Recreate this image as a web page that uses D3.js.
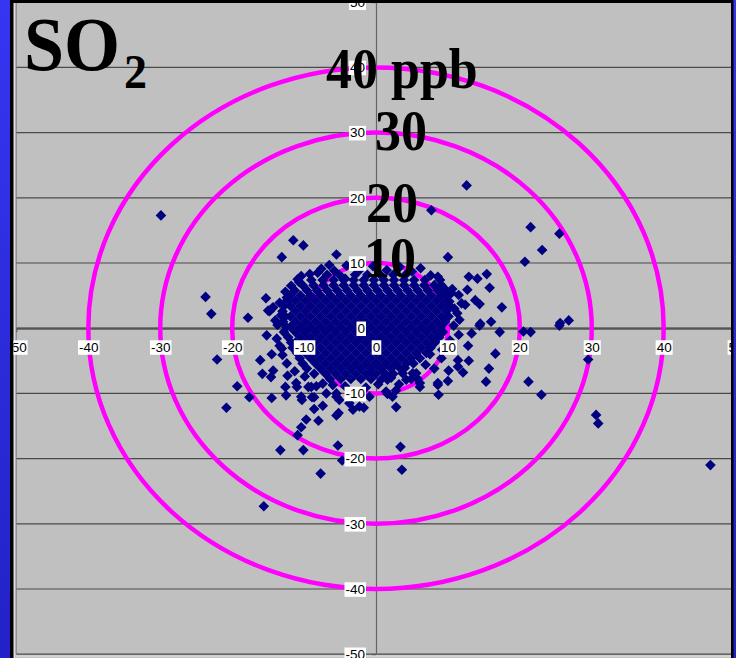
<!DOCTYPE html>
<html>
<head>
<meta charset="utf-8">
<script src="https://cdn.jsdelivr.net/npm/d3@7"></script>
<style>
  html, body { margin: 0; padding: 0; overflow: hidden; background: #2c2cdc; }
  svg { display: block; }
</style>
</head>
<body>
<svg id="chart" width="736" height="658"></svg>
<script>
// ---- data -------------------------------------------------------------
const xTicks = [-50, -40, -30, -20, -10, 0, 10, 20, 30, 40, 50];
const yTicks = [-50, -40, -30, -20, -10, 0, 10, 20, 30, 40, 50];
const ringRadii = [10, 20, 30, 40];
const ringLabels = ["10", "20", "30", "40 ppb"];

// dense cluster around the origin, listed row by row (y level, then x values)
const coreY = [8.2, 7.4, 6.6, 5.8, 5.0, 4.2, 3.4, 2.6, 1.8, 1.0, 0.2, -0.6, -1.4,
               -2.2, -3.0, -3.8, -4.6, -5.4, -6.2, -7.0, -7.8];
const coreX = [
  [-6.8, -5.1, -2.9, -1.2, 0.6, 2.4, 4.1],
  [-9.0, -7.4, -5.9, -4.5, -3.1, -1.7, -0.3, 1.1, 2.5, 3.9, 5.3, 6.8],
  [-10.2, -8.7, -7.3, -5.9, -4.5, -3.1, -1.7, -0.3, 1.1, 2.5, 3.9, 5.3, 6.7, 8.1],
  [-11.3, -9.6, -8.2, -6.8, -5.4, -4.0, -2.6, -1.2, 0.2, 1.6, 3.0, 4.4, 5.8, 7.2, 8.6, 9.4],
  [-11.9, -10.5, -9.1, -7.7, -6.3, -4.9, -3.5, -2.1, -0.7, 0.7, 2.1, 3.5, 4.9, 6.3, 7.7, 9.1, 10.0],
  [-12.4, -11.2, -9.8, -8.4, -7.0, -5.6, -4.2, -2.8, -1.4, 0.0, 1.4, 2.8, 4.2, 5.6, 7.0, 8.4, 9.8],
  [-12.8, -11.9, -10.5, -9.1, -7.7, -6.3, -4.9, -3.5, -2.1, -0.7, 0.7, 2.1, 3.5, 4.9, 6.3, 7.7, 9.1, 10.3],
  [-13.0, -11.2, -9.8, -8.4, -7.0, -5.6, -4.2, -2.8, -1.4, 0.0, 1.4, 2.8, 4.2, 5.6, 7.0, 8.4, 9.8],
  [-12.6, -11.9, -10.5, -9.1, -7.7, -6.3, -4.9, -3.5, -2.1, -0.7, 0.7, 2.1, 3.5, 4.9, 6.3, 7.7, 9.1, 10.1],
  [-12.9, -11.2, -9.8, -8.4, -7.0, -5.6, -4.2, -2.8, -1.4, 0.0, 1.4, 2.8, 4.2, 5.6, 7.0, 8.4, 9.6],
  [-12.5, -11.9, -10.5, -9.1, -7.7, -6.3, -4.9, -3.5, -2.1, -0.7, 0.7, 2.1, 3.5, 4.9, 6.3, 7.7, 9.0],
  [-12.8, -11.2, -9.8, -8.4, -7.0, -5.6, -4.2, -2.8, -1.4, 0.0, 1.4, 2.8, 4.2, 5.6, 7.0, 8.4, 9.3],
  [-12.2, -10.5, -9.1, -7.7, -6.3, -4.9, -3.5, -2.1, -0.7, 0.7, 2.1, 3.5, 4.9, 6.3, 7.7, 8.8],
  [-11.8, -11.2, -9.8, -8.4, -7.0, -5.6, -4.2, -2.8, -1.4, 0.0, 1.4, 2.8, 4.2, 5.6, 7.0, 8.2],
  [-11.6, -10.5, -9.1, -7.7, -6.3, -4.9, -3.5, -2.1, -0.7, 0.7, 2.1, 3.5, 4.9, 6.3, 7.6],
  [-11.0, -9.8, -8.4, -7.0, -5.6, -4.2, -2.8, -1.4, 0.0, 1.4, 2.8, 4.2, 5.6, 7.0],
  [-10.6, -9.1, -7.7, -6.3, -4.9, -3.5, -2.1, -0.7, 0.7, 2.1, 3.5, 4.9, 6.1],
  [-10.2, -8.4, -7.0, -5.6, -4.2, -2.8, -1.4, 0.0, 1.4, 2.8, 4.2, 5.2],
  [-9.6, -7.7, -6.3, -4.9, -3.5, -2.1, -0.7, 0.7, 2.1, 3.4],
  [-8.6, -7.0, -5.6, -4.2, -2.8, -1.4, 0.0, 1.3, 2.4],
  [-6.4, -4.9, -3.5, -2.1, -0.7, 0.8]
];

// readings on the ragged rim of the cluster
const rimPoints = [
  [-7.6, 9.1], [-5.8, 8.8], [-4.1, 9.6], [-2.2, 9.0], [-0.4, 9.5], [1.5, 8.9], [3.3, 9.4],
  [5.0, 8.7], [6.2, 9.2], [7.6, 8.1], [-9.2, 8.3], [-11.8, 6.5], [-12.6, 5.6], [-13.4, 3.9],
  [-14.0, 1.2], [-13.8, -1.6], [-13.1, -3.1], [-12.4, -5.4], [-11.3, -6.6], [-9.9, -7.4],
  [-8.3, -8.9], [-4.3, -8.9], [-1.4, -9.1], [0.3, -8.6], [3.2, -8.6], [4.0, -6.1],
  [6.9, -5.6], [8.1, -6.2], [9.2, -3.3], [10.3, -1.9], [10.8, 0.4], [10.9, 3.0], [10.6, 6.0],
  [8.9, 7.4], [-10.7, 7.1], [-0.9, -7.1], [2.1, -7.6]
];

// scattered readings away from the cluster
const outerPoints = [
  [-29.9, 17.3],
  [-11.5, 13.5], [-10.1, 12.7], [-13.1, 10.9], [-5.5, 11.3], [-6.5, 9.7], [-8.1, 8.5],
  [-10.9, 7.5], [-10.4, 8.0], [-23.7, 4.8], [-22.9, 2.2], [-17.8, 1.6], [-15.3, 4.6],
  [-12.4, 4.7], [-14.3, 3.2], [-15.0, 2.7], [-4.3, 7.6], [-7.4, 7.4],
  [-22.1, -4.8], [-15.2, -1.1], [-13.4, -2.7], [-14.5, -4.0], [-16.1, -4.9], [-15.8, -7.0],
  [-14.3, -6.5], [-14.6, -7.5], [-19.3, -8.9], [-17.6, -10.6], [-20.8, -12.2], [-14.5, -10.7],
  [-12.6, -9.0], [-12.5, -10.3], [-11.0, -9.0], [-9.4, -9.0], [-12.3, -7.3], [-10.3, -11.0],
  [-8.9, -10.6], [-8.6, -10.6], [-8.6, -12.4], [-7.4, -11.9], [-9.7, -14.0], [-8.0, -14.2],
  [-10.4, -15.2], [-10.9, -16.4], [-5.5, -13.4], [-5.2, -13.0], [-3.2, -12.5], [-1.7, -12.2],
  [-5.3, -18.0], [-4.7, -20.3], [-13.3, -18.7], [-10.1, -18.7], [-7.7, -22.3], [-15.6, -27.3],
  [-6.0, -8.7], [-5.5, -10.0], [-5.1, -11.0],
  [11.5, -1.0], [13.3, -0.8], [14.4, 0.4], [17.2, -0.6], [20.5, -0.5], [21.5, -0.6], [25.5, 0.4],
  [12.8, -2.7], [16.6, -3.9], [12.9, -5.0], [11.4, -4.9], [11.4, -5.9], [12.1, -6.8], [10.1, -6.5],
  [10.0, -8.1], [8.6, -8.7], [8.7, -10.2], [15.7, -6.2], [15.3, -8.2], [21.2, -8.2], [23.0, -10.2],
  [29.5, -4.8], [30.6, -13.3], [30.9, -14.6], [7.5, -4.0], [9.1, -4.6], [6.1, -9.0], [5.8, -7.8],
  [4.9, -7.8], [1.6, -10.1], [2.8, -9.5], [2.8, -12.1], [3.4, -18.2], [3.6, -21.7], [1.6, -7.9],
  [3.7, -6.9], [5.1, -6.9], [46.5, -21.0],
  [12.6, 21.9], [7.7, 18.1], [21.5, 15.5], [25.5, 14.5], [23.1, 12.0], [20.7, 10.2], [10.0, 10.9],
  [8.6, 7.9], [12.9, 7.9], [14.1, 7.6], [15.4, 8.3], [15.8, 6.2], [12.7, 5.9], [11.5, 5.1],
  [10.5, 5.4], [13.8, 4.3], [14.4, 3.7], [17.5, 3.2], [12.4, 3.6], [11.9, 3.8], [16.0, 1.0],
  [14.5, 0.7], [11.6, 1.3], [25.6, 0.8], [26.8, 1.2], [9.5, 6.1], [9.1, 6.6], [10.2, 4.1], [11.3, 2.3],
  [-11.1, -8.4], [-10.4, -10.5], [-9.0, -9.0], [-7.4, -8.5], [-6.9, -10.0], [-5.5, -10.5],
  [-3.7, -11.5], [-2.3, -12.0], [-0.9, -10.5], [1.4, -9.7], [2.3, -10.5], [4.2, -7.9],
  [5.6, -6.9], [6.1, -8.4], [8.6, -8.4],
  [-14.4, 3.1], [-14.8, 2.6], [-13.7, 0.5], [-13.2, 2.0], [-13.0, -4.1]
];

// ---- layout -----------------------------------------------------------
const W = 736, H = 658;
const frame = { left: 13.5, top: 3, right: 731, bottom: H };
const x = d3.scaleLinear().domain([-50, 50]).range([16.4, 735.6]);
const y = d3.scaleLinear().domain([-50, 50]).range([654.2, 2.2]);

const svg = d3.select("#chart");
const defs = svg.append("defs");

const grad = defs.append("linearGradient")
  .attr("id", "bgBlue").attr("x1", 0).attr("y1", 0).attr("x2", 0).attr("y2", 1);
grad.append("stop").attr("offset", "0%").attr("stop-color", "#3636f2");
grad.append("stop").attr("offset", "100%").attr("stop-color", "#2222c6");

defs.append("clipPath").attr("id", "inner")
  .append("rect")
  .attr("x", frame.left).attr("y", frame.top)
  .attr("width", frame.right - frame.left).attr("height", frame.bottom - frame.top);

// slide background and chart frame
svg.append("rect").attr("width", W).attr("height", H).attr("fill", "url(#bgBlue)");
svg.append("rect").attr("x", 10).attr("y", 0).attr("width", 723.5).attr("height", H + 10).attr("fill", "#000");
svg.append("rect")
  .attr("x", frame.left).attr("y", frame.top)
  .attr("width", frame.right - frame.left).attr("height", frame.bottom - frame.top)
  .attr("fill", "#c0c0c0");

const plot = svg.append("g").attr("clip-path", "url(#inner)");

// faint inner edge and plot-area border on the left
plot.append("line").attr("x1", 14.5).attr("x2", 14.5).attr("y1", frame.top).attr("y2", H)
  .attr("stroke", "#dedede").attr("stroke-width", 1.5);
plot.append("line").attr("x1", 16.2).attr("x2", 16.2).attr("y1", y(50)).attr("y2", y(-50))
  .attr("stroke", "#7a7a7a").attr("stroke-width", 1);
plot.append("line").attr("x1", x(-50)).attr("x2", x(50)).attr("y1", y(-50) + 2).attr("y2", y(-50) + 2)
  .attr("stroke", "#d4d4d4").attr("stroke-width", 2);

// horizontal gridlines
plot.append("g").selectAll("line").data(yTicks).join("line")
  .attr("x1", x(-50)).attr("x2", x(50))
  .attr("y1", d => y(d)).attr("y2", d => y(d))
  .attr("stroke", "#4a4a4a").attr("stroke-width", 1.2);

// axis lines with small ticks (labels are drawn later, above the markers)
const xAxisLines = plot.append("g").attr("transform", `translate(0,${y(0)})`)
  .call(d3.axisBottom(x).tickValues(xTicks).tickSize(4).tickSizeOuter(0));
xAxisLines.selectAll("text").remove();
xAxisLines.select(".domain").attr("stroke", "#555").attr("stroke-width", 2);
xAxisLines.selectAll(".tick line").attr("stroke", "#555");

const yAxisLines = plot.append("g").attr("transform", `translate(${x(0)},0)`)
  .call(d3.axisLeft(y).tickValues(yTicks).tickSize(4).tickSizeOuter(0));
yAxisLines.selectAll("text").remove();
yAxisLines.select(".domain").attr("stroke", "#666").attr("stroke-width", 1.2);
yAxisLines.selectAll(".tick line").attr("stroke", "#555");

// concentration rings
plot.append("g").selectAll("ellipse").data(ringRadii).join("ellipse")
  .attr("cx", x(0)).attr("cy", y(0))
  .attr("rx", d => x(d) - x(0))
  .attr("ry", d => y(0) - y(d))
  .attr("fill", "none")
  .attr("stroke", "#ff00ff")
  .attr("stroke-width", 4.5);

// markers
const corePoints = coreY.flatMap((yy, i) => coreX[i].map(xx => [xx, yy]));
const allPoints = corePoints.concat(rimPoints, outerPoints);
const diamond = "M0,-5.3L5.3,0L0,5.3L-5.3,0Z";
plot.append("g").selectAll("path").data(allPoints).join("path")
  .attr("d", diamond)
  .attr("transform", d => `translate(${x(d[0])},${y(d[1])})`)
  .attr("fill", "#000080");

// tick labels on white boxes
const plainNumber = d => String(d);
function boxLabels(g) {
  g.select(".domain").remove();
  g.selectAll(".tick line").remove();
  g.selectAll(".tick text")
    .attr("fill", "#000")
    .attr("font-family", "'Liberation Sans', Arial, sans-serif")
    .attr("font-size", 13.5);
  g.selectAll(".tick").each(function () {
    const t = d3.select(this).select("text");
    const b = t.node().getBBox();
    d3.select(this).insert("rect", "text")
      .attr("x", b.x - 1).attr("y", b.y + 0.5)
      .attr("width", b.width + 2).attr("height", b.height - 0.5)
      .attr("fill", "#fff");
  });
}

const xLabels = plot.append("g").attr("transform", `translate(0,${y(0)})`)
  .call(d3.axisBottom(x).tickValues(xTicks).tickSize(4).tickPadding(10).tickFormat(plainNumber));
boxLabels(xLabels);

const yLabels = plot.append("g").attr("transform", `translate(${x(0)},0)`)
  .call(d3.axisLeft(y).tickValues(yTicks).tickSize(4).tickPadding(7).tickFormat(plainNumber));
boxLabels(yLabels);

// ring value labels
const ringLabelPos = [[364, 277], [366, 222], [375, 150], [326, 88]];
const serif = "'Liberation Serif', 'Times New Roman', serif";
plot.append("g").selectAll("text").data(ringLabels).join("text")
  .attr("transform", (d, i) => `translate(${ringLabelPos[i][0]},${ringLabelPos[i][1]}) scale(1,1.08)`)
  .attr("font-family", serif)
  .attr("font-weight", "bold")
  .attr("font-size", 52)
  .attr("fill", "#000")
  .text(d => d);

// title
const title = plot.append("g");
title.append("text")
  .attr("transform", "translate(24,70) scale(1,1.07)")
  .attr("font-family", serif).attr("font-weight", "bold").attr("font-size", 72)
  .attr("fill", "#000").text("SO");
title.append("text")
  .attr("transform", "translate(124,88) scale(1,1.07)")
  .attr("font-family", serif).attr("font-weight", "bold").attr("font-size", 46)
  .attr("fill", "#000").text("2");
</script>
</body>
</html>
